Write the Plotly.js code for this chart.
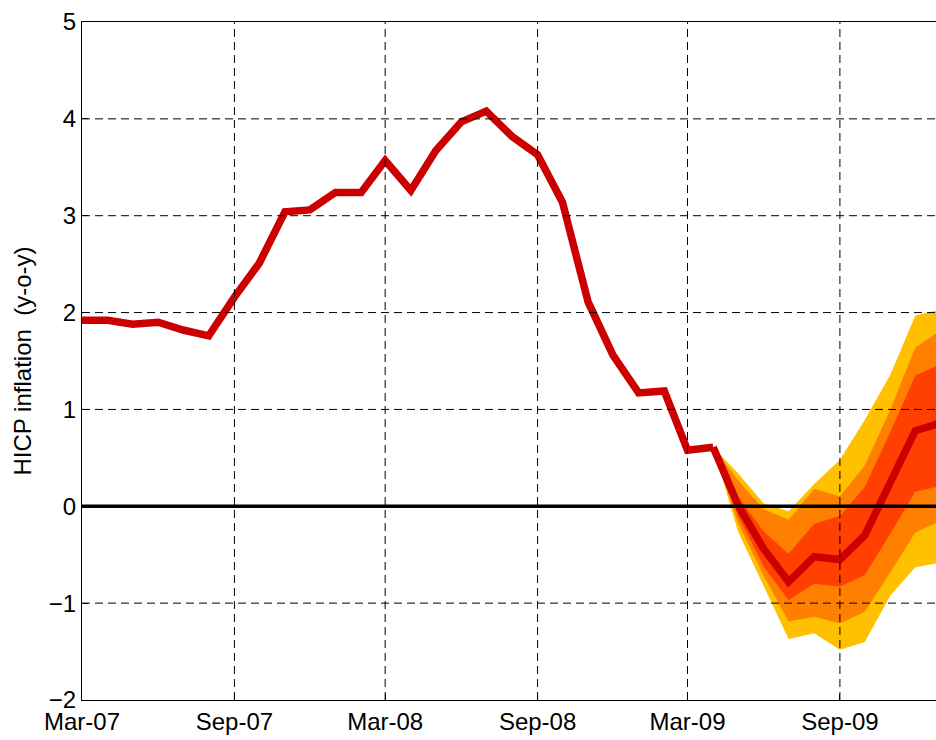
<!DOCTYPE html>
<html>
<head>
<meta charset="utf-8">
<script src="https://cdn.plot.ly/plotly-3.0.1.min.js"></script>
<style>
  html, body { margin: 0; padding: 0; background: #ffffff; }
  #chart { width: 936px; height: 740px; }
</style>
</head>
<body>
<div id="chart"></div>
<script>
// ---- Data ----
var histDates = ['2007-03-01','2007-04-01','2007-05-01','2007-06-01','2007-07-01','2007-08-01',
                 '2007-09-01','2007-10-01','2007-11-01','2007-12-01','2008-01-01','2008-02-01',
                 '2008-03-01','2008-04-01','2008-05-01','2008-06-01','2008-07-01','2008-08-01',
                 '2008-09-01','2008-10-01','2008-11-01','2008-12-01','2009-01-01','2009-02-01',
                 '2009-03-01','2009-04-01'];
var histValues = [1.92, 1.92, 1.88, 1.90, 1.82, 1.76,
                  2.16, 2.51, 3.04, 3.06, 3.24, 3.24,
                  3.57, 3.26, 3.67, 3.97, 4.08, 3.82,
                  3.63, 3.14, 2.11, 1.56, 1.17, 1.19,
                  0.58, 0.61];

var fanDates   = ['2009-04-01','2009-05-01','2009-06-01','2009-07-01','2009-08-01',
                  '2009-09-01','2009-10-01','2009-11-01','2009-12-01','2010-01-01'];
var fanCenter  = [0.61,  0.01, -0.44, -0.78, -0.52, -0.55, -0.30,  0.24,  0.78,  0.86];
var innerUpper = [0.61,  0.10, -0.26, -0.49, -0.18, -0.10,  0.20,  0.77,  1.35,  1.47];
var innerLower = [0.61, -0.10, -0.62, -0.97, -0.80, -0.83, -0.71, -0.28,  0.15,  0.21];
var midUpper   = [0.61,  0.27, -0.03, -0.14,  0.18,  0.10,  0.42,  1.00,  1.64,  1.82];
var midLower   = [0.61, -0.17, -0.72, -1.19, -1.14, -1.21, -1.09, -0.68, -0.27, -0.15];
var outerUpper = [0.61,  0.34,  0.03, -0.05,  0.23,  0.48,  0.89,  1.36,  1.97,  2.03];
var outerLower = [0.61, -0.26, -0.82, -1.37, -1.31, -1.48, -1.40, -0.92, -0.63, -0.58];

var xTickVals  = ['2007-03-01','2007-09-01','2008-03-01','2008-09-01','2009-03-01','2009-09-01'];
var xTickText  = ['Mar-07','Sep-07','Mar-08','Sep-08','Mar-09','Sep-09'];
var yTickVals  = [-2, -1, 0, 1, 2, 3, 4, 5];
var yTitle     = 'HICP inflation  (y-o-y)';

// ---- Build ----
function band(upper, lower, color) {
  var xs = fanDates.concat(fanDates.slice().reverse());
  var ys = upper.concat(lower.slice().reverse());
  return {
    x: xs, y: ys, type: 'scatter', mode: 'lines',
    fill: 'toself', fillcolor: color,
    line: { width: 0, color: color },
    hoverinfo: 'skip', showlegend: false
  };
}

var red = '#CC0000';
var traces = [
  band(outerUpper, outerLower, '#FFC000'),
  band(midUpper, midLower, '#FF8000'),
  band(innerUpper, innerLower, '#FF4000'),
  { x: fanDates, y: fanCenter, type: 'scatter', mode: 'lines',
    line: { color: red, width: 7.5, shape: 'linear' }, showlegend: false },
  { x: histDates, y: histValues, type: 'scatter', mode: 'lines',
    line: { color: red, width: 7.5, shape: 'linear' }, showlegend: false }
];

// Grid lines drawn on top of the data (as in the original), from the tick arrays
var shapes = [];
xTickVals.slice(1).forEach(function (d) {
  shapes.push({ type: 'line', xref: 'x', yref: 'paper', x0: d, x1: d, y0: 0, y1: 1,
                layer: 'above', line: { color: '#000000', width: 1, dash: '8px,5px' } });
});
yTickVals.forEach(function (v) {
  if (v === yTickVals[0] || v === yTickVals[yTickVals.length - 1] || v === 0) return;
  shapes.push({ type: 'line', xref: 'paper', yref: 'y', x0: 0, x1: 1, y0: v, y1: v,
                layer: 'above', line: { color: '#000000', width: 1, dash: '8px,5px' } });
});
// zero line
shapes.push({ type: 'line', xref: 'paper', yref: 'y', x0: 0, x1: 1, y0: 0, y1: 0,
              layer: 'above', line: { color: '#000000', width: 3.5 } });

var font = { family: 'Liberation Sans, Arial, sans-serif', size: 24, color: '#000000' };

var layout = {
  width: 936, height: 740,
  margin: { l: 82, r: 0, t: 22, b: 40, pad: 0 },
  paper_bgcolor: '#ffffff', plot_bgcolor: '#ffffff',
  font: font,
  showlegend: false,
  xaxis: {
    type: 'date',
    range: ['2007-03-01', '2009-12-26'],
    tickmode: 'array', tickvals: xTickVals, ticktext: xTickText,
    showgrid: false, zeroline: false,
    showline: true, linecolor: '#000000', linewidth: 1.2, mirror: true,
    ticks: 'inside', ticklen: 6, tickcolor: '#000000',
    tickfont: font, automargin: false, fixedrange: true
  },
  yaxis: {
    range: [-2, 5],
    tickmode: 'array', tickvals: yTickVals,
    showgrid: false, zeroline: false,
    showline: true, linecolor: '#000000', linewidth: 1.2, mirror: false,
    ticks: 'inside', ticklen: 6, tickcolor: '#000000',
    tickfont: font, automargin: false, fixedrange: true,
    title: { text: yTitle, font: font, standoff: 10 }
  },
  shapes: shapes
};

Plotly.newPlot('chart', traces, layout, { displayModeBar: false, staticPlot: true });
</script>
</body>
</html>
